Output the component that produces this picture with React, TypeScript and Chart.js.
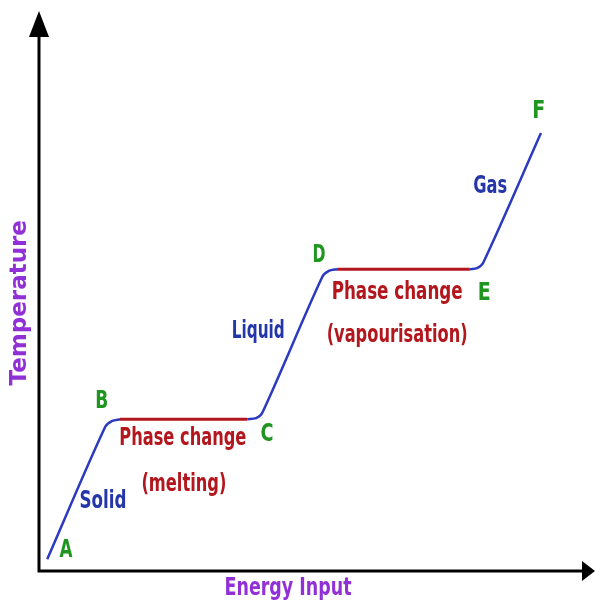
import React, { useEffect, useRef } from "react";
import { Chart, registerables } from "chart.js";

Chart.register(...registerables);

// Energy input (arbitrary units, 0-100) and temperature (arbitrary units, 0-100)
const solidEnergy = [1.5, 12.0, 13.3, 14.7];
const solidTemp = [2.1, 25.7, 26.8, 27.1];
const meltingEnergy = [14.7, 37.8];
const meltingTemp = [27.1, 27.1];
const liquidEnergy = [37.8, 39.4, 40.5, 51.4, 52.6, 54.1];
const liquidTemp = [27.1, 27.3, 28.2, 52.5, 53.6, 53.9];
const vapourEnergy = [54.1, 78.2];
const vapourTemp = [53.9, 53.9];
const gasEnergy = [78.2, 79.5, 80.6, 91.1];
const gasTemp = [53.9, 54.1, 55.0, 78.2];

const pointLetters = ["A", "B", "C", "D", "E", "F"];
const letterEnergy = [4.9, 11.4, 41.4, 50.8, 80.8, 90.7];
const letterTemp = [3.6, 30.2, 24.3, 56.3, 49.5, 82.0];

const phaseNames = ["Solid", "Liquid", "Gas"];
const phaseEnergy = [11.6, 39.8, 81.9];
const phaseTemp = [12.3, 42.7, 68.6];

const changeLines = ["Phase change", "(melting)", "Phase change", "(vapourisation)"];
const changeEnergy = [26.1, 26.3, 65.0, 65.0];
const changeTemp = [23.6, 15.5, 49.8, 42.1];

const xTitle = "Energy Input";
const yTitle = "Temperature";

const BLUE = "#2b3ac0";
const RED = "#b3161c";
const GREEN = "#1f961f";
const PURPLE = "#9130d6";
const TEXT_BLUE = "#2436a8";

const toPts = (xs: number[], ys: number[]) => xs.map((x, i) => ({ x, y: ys[i] }));

const decorPlugin = {
  id: "decor",
  afterDatasetsDraw(chart: any) {
    const { ctx, chartArea, scales } = chart;
    const xs = scales.x;
    const ys = scales.y;
    ctx.save();
    // axes
    ctx.strokeStyle = "#000";
    ctx.fillStyle = "#000";
    ctx.lineWidth = 3;
    ctx.beginPath();
    ctx.moveTo(chartArea.left, chartArea.bottom + 1.5);
    ctx.lineTo(chartArea.left, chartArea.top + 24);
    ctx.moveTo(chartArea.left - 1.5, chartArea.bottom);
    ctx.lineTo(chart.width - 12, chartArea.bottom);
    ctx.stroke();
    // y arrow
    ctx.beginPath();
    ctx.moveTo(chartArea.left, chartArea.top);
    ctx.lineTo(chartArea.left - 10, chartArea.top + 26);
    ctx.lineTo(chartArea.left + 10, chartArea.top + 26);
    ctx.closePath();
    ctx.fill();
    // x arrow
    ctx.beginPath();
    ctx.moveTo(chart.width, chartArea.bottom);
    ctx.lineTo(chart.width - 13, chartArea.bottom - 10);
    ctx.lineTo(chart.width - 13, chartArea.bottom + 10);
    ctx.closePath();
    ctx.fill();

    const draw = (t: string, x: number, y: number, color: string, font: string, maxW?: number) => {
      ctx.fillStyle = color;
      ctx.font = font;
      ctx.textAlign = "center";
      ctx.textBaseline = "middle";
      const w = ctx.measureText(t).width;
      if (maxW && w > maxW) ctx.fillText(t, x, y, maxW);
      else ctx.fillText(t, x, y);
    };

    const FONT = "'DejaVu Sans', sans-serif";
    pointLetters.forEach((l, i) =>
      draw(l, xs.getPixelForValue(letterEnergy[i]), ys.getPixelForValue(letterTemp[i]), GREEN, `bold 24px ${FONT}`, 13)
    );
    const phaseW = [47, 53, 34];
    phaseNames.forEach((l, i) =>
      draw(l, xs.getPixelForValue(phaseEnergy[i]), ys.getPixelForValue(phaseTemp[i]), TEXT_BLUE, `bold 24px ${FONT}`, phaseW[i])
    );
    const changeW = [127, 85, 131, 141];
    changeLines.forEach((l, i) =>
      draw(l, xs.getPixelForValue(changeEnergy[i]), ys.getPixelForValue(changeTemp[i]), RED, `bold 25px ${FONT}`, changeW[i])
    );
    // axis titles
    draw(xTitle, xs.getPixelForValue(45.2), chartArea.bottom + 18, PURPLE, `bold 24px ${FONT}`, 127);
    ctx.save();
    ctx.translate(chartArea.left - 19, ys.getPixelForValue(47.9));
    ctx.rotate(-Math.PI / 2);
    draw(yTitle, 0, 0, PURPLE, `bold 23px ${FONT}`, 193);
    ctx.restore();
    ctx.restore();
  },
};

export default function App() {
  const ref = useRef<HTMLCanvasElement | null>(null);
  useEffect(() => {
    document.body.style.margin = "0";
    const line = (data: any, color: string, width: number) => ({
      data,
      borderColor: color,
      borderWidth: width,
      pointRadius: 0,
      tension: 0.3,
      fill: false,
    });
    const chart = new Chart(ref.current as HTMLCanvasElement, {
      type: "line",
      data: {
        datasets: [
          line(toPts(meltingEnergy, meltingTemp), RED, 3),
          line(toPts(vapourEnergy, vapourTemp), RED, 3),
          line(toPts(solidEnergy, solidTemp), BLUE, 2.5),
          line(toPts(liquidEnergy, liquidTemp), BLUE, 2.5),
          line(toPts(gasEnergy, gasTemp), BLUE, 2.5),
        ] as any,
      },
      options: {
        animation: false,
        responsive: false,
        devicePixelRatio: 1,
        layout: { padding: { left: 39, right: 5, top: 11, bottom: 34 } },
        plugins: { legend: { display: false }, tooltip: { enabled: false } },
        scales: {
          x: { type: "linear", min: 0, max: 100, display: false },
          y: { type: "linear", min: 0, max: 100, display: false },
        },
      },
      plugins: [decorPlugin],
    });
    return () => chart.destroy();
  }, []);
  return (
    <div style={{ width: 595, height: 605, background: "#fff" }}>
      <canvas ref={ref} width={595} height={605} style={{ display: "block" }} />
    </div>
  );
}
